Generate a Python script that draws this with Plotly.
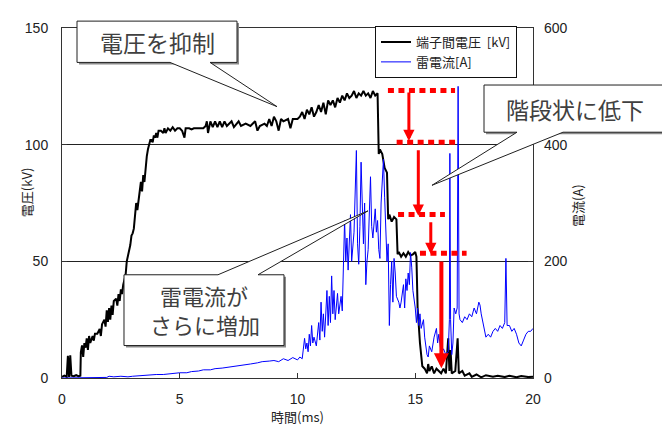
import plotly.graph_objects as go

# ---------------- data ----------------
volt_t = [0.0, 0.1, 0.2, 0.25, 0.3, 0.35, 0.4, 0.5, 0.6, 0.7, 0.78, 0.8, 0.85, 0.9, 0.95, 1.0, 1.05, 1.1, 1.15, 1.2,
          1.3, 1.35, 1.4, 1.5, 1.6, 1.65, 1.7, 1.8, 1.85, 1.9, 1.95, 2.0, 2.05, 2.1, 2.15, 2.2, 2.3, 2.35, 2.4, 2.45,
          2.5, 2.55, 2.6, 2.7, 2.75, 2.8, 2.9, 2.95, 3.0, 3.05, 3.1, 3.15, 3.2, 3.3, 3.35, 3.4, 3.45, 3.5, 3.55, 3.6,
          3.65, 3.7, 3.75, 3.8, 3.85, 3.9, 3.95, 4.0, 4.05, 4.1, 4.2, 4.3, 4.35, 4.4, 4.5, 4.6, 4.7, 4.8, 4.9, 5.0,
          5.1, 5.2, 5.25, 5.4, 5.5, 5.6, 5.8, 6.0, 6.1, 6.15, 6.2, 6.25, 6.3, 6.4, 6.5, 6.6, 6.7, 6.8, 6.9, 7.0,
          7.2, 7.3, 7.5, 7.6, 7.8, 8.0, 8.2, 8.3, 8.4, 8.6, 8.7, 8.8, 8.9, 9.0, 9.1, 9.2, 9.3, 9.4, 9.6, 9.7,
          9.8, 10.0, 10.1, 10.2, 10.3, 10.4, 10.5, 10.6, 10.7, 10.8, 10.9, 11.0, 11.1, 11.2, 11.3, 11.4, 11.5, 11.6, 11.7, 11.8,
          11.9, 12.0, 12.1, 12.2, 12.3, 12.4, 12.5, 12.6, 12.7, 12.8, 12.9, 13.0, 13.1, 13.2, 13.3, 13.4, 13.45, 13.5, 13.6, 13.7,
          13.8, 13.85, 13.9, 14.0, 14.1, 14.2, 14.25, 14.3, 14.4, 14.5, 14.6, 14.7, 14.8, 14.9, 15.0, 15.05, 15.1, 15.2, 15.3, 15.4,
          15.5, 15.55, 15.6, 15.7, 15.8, 15.9, 16.0, 16.1, 16.2, 16.3, 16.4, 16.45, 16.5, 16.55, 16.7, 16.8, 16.85, 17.0, 17.1, 17.3,
          17.4, 17.6, 17.8, 18.0, 18.3, 18.5, 18.8, 19.0, 19.3, 19.5, 19.8, 20.0]
volt_kv = [0.5, 1, 0.5, 9.5, 0.5, 9.7, 1, 0.8, 1.2, 0.8, 1, 11, 14, 9, 15, 13, 17, 12, 18, 15,
           18, 16, 19, 19, 21, 18, 23, 25, 22, 29, 24, 30, 25, 31, 27, 33, 34, 31, 36, 33,
           38, 36, 40, 44, 50, 52, 57, 61, 62, 64, 71, 75, 72, 80, 84, 80, 87, 84, 92, 95,
           98, 100, 102, 102, 101, 104, 103, 105, 103, 106, 106, 105, 107, 105, 107, 106, 107.5, 106, 107, 107,
           106, 103, 107, 107, 106.5, 107, 107, 107, 108, 110, 105, 108, 110, 107.5, 110, 107.5, 110, 107.5, 110, 108,
           110, 107.5, 110, 108, 109, 108, 110, 106, 108, 109, 108, 111, 108, 112, 110, 106, 111, 110, 111, 107,
           111, 111, 112, 114, 111, 115, 113, 116, 112, 114, 117, 114, 118, 113, 119, 117, 119, 116, 120, 118,
           121, 119, 122, 120, 121, 123, 120, 122, 121, 123, 121, 122, 120, 123, 121, 122, 96, 98, 96, 90,
           88, 68, 70, 67, 69, 68, 53, 54, 52, 53.5, 52, 54, 52.5, 53, 54, 52, 30, 15, 5, 4,
           2, 6, 3, 5, 2, 4, 3, 2, 4, 2, 17, 3, 12, 2, 3, 17, 2, 3, 1, 2,
           0.5, 1.5, 0.3, 1.2, 0.5, 1, 0.4, 1, 0.3, 0.8, 0.4, 0.5]

curr_t = [0.0, 0.5, 1.0, 1.5, 1.9, 2.0, 2.2, 2.5, 2.8, 3.0, 3.3, 3.5, 3.8, 4.0, 4.3, 4.5, 4.8, 5.0, 5.3, 5.5,
          5.8, 6.0, 6.3, 6.5, 6.8, 7.0, 7.3, 7.5, 7.8, 8.0, 8.3, 8.5, 8.8, 9.0, 9.2, 9.4, 9.6, 9.8, 10.0, 10.1,
          10.2, 10.3, 10.35, 10.4, 10.45, 10.5, 10.55, 10.6, 10.65, 10.7, 10.8, 10.9, 10.95, 11.0, 11.05, 11.1, 11.15, 11.25, 11.3, 11.35,
          11.4, 11.45, 11.5, 11.55, 11.6, 11.7, 11.75, 11.85, 11.9, 12.0, 12.05, 12.1, 12.15, 12.25, 12.3, 12.4, 12.5, 12.55, 12.6, 12.65,
          12.7, 12.75, 12.8, 12.85, 12.9, 12.95, 13.0, 13.1, 13.15, 13.2, 13.3, 13.35, 13.4, 13.45, 13.5, 13.55, 13.6, 13.65, 13.7, 13.75,
          13.8, 13.85, 13.9, 13.95, 14.0, 14.05, 14.1, 14.15, 14.2, 14.3, 14.35, 14.4, 14.5, 14.55, 14.6, 14.65, 14.7, 14.75, 14.8, 14.85,
          14.9, 15.0, 15.05, 15.1, 15.15, 15.2, 15.25, 15.35, 15.4, 15.5, 15.55, 15.6, 15.7, 15.8, 15.9, 15.95, 16.0, 16.1, 16.2, 16.3,
          16.4, 16.45, 16.47, 16.5, 16.55, 16.6, 16.65, 16.72, 16.78, 16.82, 16.86, 16.9, 17.0, 17.1, 17.2, 17.3, 17.4, 17.5, 17.6, 17.7,
          17.75, 17.8, 17.9, 18.0, 18.1, 18.2, 18.3, 18.4, 18.5, 18.6, 18.7, 18.8, 18.85, 18.9, 19.0, 19.1, 19.2, 19.3, 19.4, 19.5,
          19.6, 19.7, 19.8, 19.9, 20.0]
curr_a = [0, 0, 0.5, 1, 1, 3, 2, 3, 2, 3, 4, 5, 5, 6, 6, 7, 8, 9, 9, 11,
          12, 14, 14, 16, 17, 18, 20, 21, 23, 24, 26, 28, 29, 30, 28, 33, 30, 35, 31, 36,
          33, 68, 50, 60, 45, 75, 55, 90, 60, 70, 55, 95, 65, 130, 80, 110, 70, 150, 90, 140,
          95, 175, 110, 150, 100, 145, 110, 140, 115, 270, 200, 240, 185, 280, 200, 250, 390, 230, 195, 260,
          370, 280, 230, 300, 160, 200, 220, 345, 260, 240, 290, 250, 270, 220, 205, 300, 340, 375, 310, 250,
          200, 230, 90, 160, 200, 130, 205, 180, 140, 130, 120, 130, 160, 120, 170, 150, 180, 160, 215, 190,
          150, 120, 95, 120, 90, 110, 85, 100, 70, 40, 36, 55, 45, 70, 85, 60, 75, 42, 50, 40,
          45, 100, 385, 100, 40, 60, 120, 110, 120, 500, 110, 100, 95, 105, 100, 110, 105, 120, 110, 130,
          125, 110, 90, 70, 75, 70, 80, 85, 80, 90, 85, 95, 205, 90, 90, 80, 85, 75, 60, 55,
          65, 75, 80, 80, 85]

# red dotted step levels (kV) and their time spans (ms)
level_kv = [123.2, 101.0, 70.1, 53.5]
level_t0 = [13.84, 14.21, 14.27, 15.20]
level_t1 = [16.69, 16.69, 16.26, 17.18]
# red arrows: time, from kV, to kV, width
arrow_t = [14.73, 15.13, 15.66, 16.11]
arrow_from = [123.0, 98.2, 67.4, 50.6]
arrow_to = [101.6, 69.5, 53.1, 4.2]
arrow_w = [3, 3, 3, 4]

x_ticks = [0, 5, 10, 15, 20]
yl_ticks = [0, 50, 100, 150]
yr_ticks = [0, 200, 400, 600]

# ---------------- layout helpers ----------------
OFF = 8  # page body margin of the browser
W, H = 670 - OFF, 430 - OFF
L, R, T, B = 62, 533, 22, 378  # plot area in screen pixels


def px(x):
    return (x - L) / (R - L)


def py(y):
    return (B - y) / (B - T)


def path(points):
    s = "M " + " L ".join(f"{px(x):.5f},{py(y):.5f}" for x, y in points) + " Z"
    return s


CJK = "Noto Sans CJK JP"
LAT = "Liberation Sans, Arial, sans-serif"
TXT = "#404040"

fig = go.Figure()
fig.add_trace(go.Scatter(x=volt_t, y=volt_kv, mode="lines", name="端子間電圧&nbsp;&nbsp;[kV]",
                         line=dict(color="black", width=2), yaxis="y"))
fig.add_trace(go.Scatter(x=curr_t, y=curr_a, mode="lines", name="雷電流[A]",
                         line=dict(color="#0000ff", width=1), yaxis="y2"))

shapes = []
for k, a, b in zip(level_kv, level_t0, level_t1):
    shapes.append(dict(type="line", xref="x", yref="y", x0=a, x1=b, y0=k, y1=k,
                       line=dict(color="#ff0000", width=5, dash="6px,4.5px"), layer="above"))

bubbles = [
    ((77, 15, 237, 57), [(77, 15), (237, 15), (237, 57), (210, 57), (277, 102), (170, 57), (77, 57)]),
    ((484, 80, 664, 128), [(484, 80), (664, 80), (664, 128), (563, 128), (432, 182), (517, 128), (484, 128)]),
    ((124, 273, 284, 345), [(124, 273), (218, 273), (368, 208), (258, 273), (284, 273), (284, 345), (124, 345)]),
]
for (x0, y0, x1, y1), poly in bubbles:
    shapes.append(dict(type="rect", xref="paper", yref="paper", x0=px(x0 + 2), x1=px(x1 + 2),
                       y0=py(y1 + 2), y1=py(y0 + 2), fillcolor="#8a8a8a", line=dict(width=0), layer="above"))
    shapes.append(dict(type="path", xref="paper", yref="paper", path=path(poly), fillcolor="white",
                       line=dict(color="#202020", width=1), layer="above"))

annotations = []
for t, a, b, w in zip(arrow_t, arrow_from, arrow_to, arrow_w):
    annotations.append(dict(x=t, y=b, ax=t, ay=a, xref="x", yref="y", axref="x", ayref="y", text="",
                            showarrow=True, arrowhead=2, arrowsize=0.75, arrowwidth=w, arrowcolor="#ff0000",
                            standoff=0, startstandoff=0))

bubble_font = dict(family=CJK, size=23, color=TXT)
annotations.append(dict(x=px(157), y=py(36), xref="paper", yref="paper", text="電圧を抑制", showarrow=False,
                        font=bubble_font, xanchor="center", yanchor="middle"))
annotations.append(dict(x=px(575), y=py(104), xref="paper", yref="paper", text="階段状に低下", showarrow=False,
                        font=bubble_font, xanchor="center", yanchor="middle"))
small_bubble_font = dict(family=CJK, size=22, color=TXT)
annotations.append(dict(x=px(204), y=py(294), xref="paper", yref="paper", text="雷電流が",
                        showarrow=False, font=small_bubble_font, xanchor="center", yanchor="middle"))
annotations.append(dict(x=px(205), y=py(323), xref="paper", yref="paper", text="さらに増加",
                        showarrow=False, font=small_bubble_font, xanchor="center", yanchor="middle"))

title_font = dict(family=CJK, size=13, color="#222")
annotations.append(dict(x=px(26), y=py(190), xref="paper", yref="paper", text="電圧(kV)", textangle=-90,
                        showarrow=False, font=title_font, xanchor="center", yanchor="middle"))
annotations.append(dict(x=px(578), y=py(203), xref="paper", yref="paper", text="電流(A)", textangle=-90,
                        showarrow=False, font=title_font, xanchor="center", yanchor="middle"))
annotations.append(dict(x=px(297), y=py(417), xref="paper", yref="paper", text="時間(ms)",
                        showarrow=False, font=title_font, xanchor="center", yanchor="middle"))

tick_font = dict(family=LAT, size=14, color="#222")
fig.update_layout(
    width=W, height=H,
    margin=dict(l=L - OFF, r=670 - R, t=T - OFF, b=430 - B, pad=0),
    paper_bgcolor="white", plot_bgcolor="white",
    font=dict(family=CJK, color="#222"),
    xaxis=dict(range=[0, 20], tickvals=x_ticks, ticks="inside", ticklen=5, tickcolor="#333",
               showline=True, mirror=True, linecolor="#333", linewidth=1, showgrid=False, zeroline=False,
               tickfont=tick_font, ticklabelstandoff=8),
    yaxis=dict(range=[0, 150], tickvals=yl_ticks, ticks="inside", ticklen=5, tickcolor="#333",
               showline=True, mirror=True, linecolor="#333", linewidth=1, showgrid=True, gridcolor="#222",
               gridwidth=1, zeroline=False, tickfont=tick_font, ticklabelstandoff=10),
    yaxis2=dict(range=[0, 600], tickvals=yr_ticks, overlaying="y", side="right", ticks="inside", ticklen=5,
                tickcolor="#333", showgrid=False, zeroline=False, showline=False, tickfont=tick_font,
                ticklabelstandoff=10),
    legend=dict(x=px(375), y=py(20), xanchor="left", yanchor="top", bgcolor="white", bordercolor="#111",
                borderwidth=1, font=dict(family=CJK, size=13, color="#222"), tracegroupgap=0,
                itemwidth=30),
    shapes=shapes,
    annotations=annotations,
    showlegend=True,
)

fig.write_html("out.html")
